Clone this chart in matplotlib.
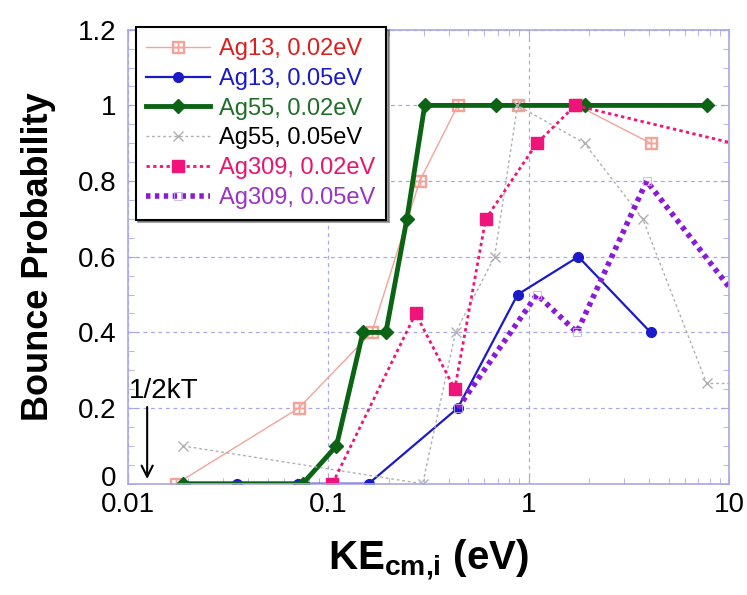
import matplotlib.pyplot as plt
from matplotlib.ticker import FixedLocator, LogLocator, NullFormatter
from matplotlib.transforms import ScaledTranslation

plt.rcParams['font.family'] = ['Liberation Sans', 'DejaVu Sans']
plt.rcParams['mathtext.fontset'] = 'custom'
plt.rcParams['mathtext.rm'] = 'Liberation Sans'
plt.rcParams['mathtext.bf'] = 'Liberation Sans:bold'

# bounce probability vs collision energy (eV)
ag13_002_x = [0.0175, 0.0713, 0.165, 0.286, 0.443, 0.881, 1.75, 4.06]
ag13_002_y = [0.0, 0.2, 0.4, 0.8, 1.0, 1.0, 1.0, 0.9]

ag13_005_x = [0.035, 0.0705, 0.159, 0.443, 0.881, 1.77, 4.06]
ag13_005_y = [0.0, 0.0, 0.0, 0.2, 0.5, 0.6, 0.4]

ag55_002_x = [0.0188, 0.0746, 0.110, 0.149, 0.194, 0.247, 0.303, 0.684, 1.92, 7.73]
ag55_002_y = [0.0, 0.0, 0.1, 0.4, 0.4, 0.7, 1.0, 1.0, 1.0, 1.0]

ag55_005_x = [0.0188, 0.296, 0.432, 0.676, 0.88, 1.90, 3.71, 7.73, 12.0]
ag55_005_y = [0.1, 0.0, 0.4, 0.6, 1.0, 0.9, 0.7, 0.265, 0.265]

ag309_002_x = [0.105, 0.273, 0.428, 0.611, 1.10, 1.71, 15.0]
ag309_002_y = [0.0, 0.45, 0.25, 0.7, 0.9, 1.0, 0.88]

ag309_005_x = [0.443, 1.10, 1.74, 3.88, 15.0]
ag309_005_y = [0.2, 0.5, 0.4, 0.8, 0.4]

fig = plt.figure(figsize=(7.47, 5.95), dpi=100)
ax = fig.add_axes([0.171, 0.187, 0.805, 0.763])

ax.plot(ag13_002_x, ag13_002_y, color='#f2a49a', lw=1.0, marker=r'$\boxplus$',
        ms=9, label='Ag13, 0.02eV')
ax.plot(ag13_005_x, ag13_005_y, color='#1a1ac8', lw=1.6, marker='o', ms=7,
        label='Ag13, 0.05eV')
ax.plot(ag55_002_x, ag55_002_y, color='#0b6414', lw=3.5, marker='D', ms=7,
        label='Ag55, 0.02eV')
ax.plot(ag55_005_x, ag55_005_y, color='#b0b0b0', lw=1.0, ls=(0, (2, 2)), marker='x',
        ms=7, label='Ag55, 0.05eV')
ax.plot(ag309_002_x, ag309_002_y, color='#f0147a', lw=2.0, ls=(0, (1.2, 1.2)),
        marker='s', ms=8, label='Ag309, 0.02eV')
ax.plot(ag309_005_x, ag309_005_y, color='#8a1ad8', lw=4.0, ls=(0, (0.8, 0.8)),
        marker='s', ms=6, mfc='none', mec='#c8b0e8', mew=0.6, label='Ag309, 0.05eV')

ax.set_xscale('log')
ax.set_xlim(0.01, 10)
ax.set_ylim(0, 1.2)
ax.xaxis.set_major_locator(FixedLocator([0.01, 0.1, 1, 10]))
ax.set_xticklabels(['0.01', '0.1', '1', '10'])
ax.xaxis.set_minor_locator(LogLocator(base=10, subs=range(2, 10)))
ax.xaxis.set_minor_formatter(NullFormatter())
ax.set_yticks([0, 0.2, 0.4, 0.6, 0.8, 1.0, 1.2])
ax.set_yticklabels(['0', '0.2', '0.4', '0.6', '0.8', '1', '1.2'])
ax.set_yticks([i * 0.05 for i in range(25)], minor=True)

edge = '#a8a8e8'
for s in ax.spines.values():
    s.set_color(edge)
    s.set_linewidth(1.2)
ax.tick_params(which='both', direction='in', top=True, right=True, color=edge,
               labelsize=20)
ax.tick_params(axis='y', pad=8)
ax.tick_params(axis='x', pad=6)
ax.tick_params(which='major', length=6)
ax.tick_params(which='minor', length=4)
ax.grid(True, which='major', color='#a8a8e8', ls=(0, (3, 3)), lw=0.9)

# nudge the "0" label up so it clears "0.01"
lbl0 = ax.get_yticklabels()[0]
lbl0.set_transform(lbl0.get_transform() + ScaledTranslation(0, 0.08, fig.dpi_scale_trans))

ax.set_ylabel('Bounce Probability', fontsize=26, fontweight='bold', labelpad=16)
ax.set_xlabel(r'KE$_{\mathbf{cm{,}i}}$ (eV)', fontsize=29, fontweight='bold', labelpad=14)

# 1/2 kT marker
ax.annotate('', xy=(0.0125, 0.005), xytext=(0.0125, 0.21),
            arrowprops=dict(arrowstyle='->', color='black', lw=1.5, mutation_scale=20))
ax.text(0.0101, 0.212, '1/2kT', fontsize=20, ha='left', va='bottom')

leg = ax.legend(loc='upper left', bbox_to_anchor=(0.013, 1.005), fontsize=17, frameon=True,
                fancybox=False, shadow=True, handlelength=2.7, handletextpad=0.4,
                labelspacing=0.33, borderpad=0.45, borderaxespad=0.0)
leg.get_frame().set_edgecolor('black')
leg.get_frame().set_linewidth(1.5)
text_colors = ['#dc1e1e', '#1a1ac8', '#1e6e28', 'black', '#e81470', '#9a32c8']
for t, c in zip(leg.get_texts(), text_colors):
    t.set_color(c)

fig.savefig('out.png', dpi=100)
